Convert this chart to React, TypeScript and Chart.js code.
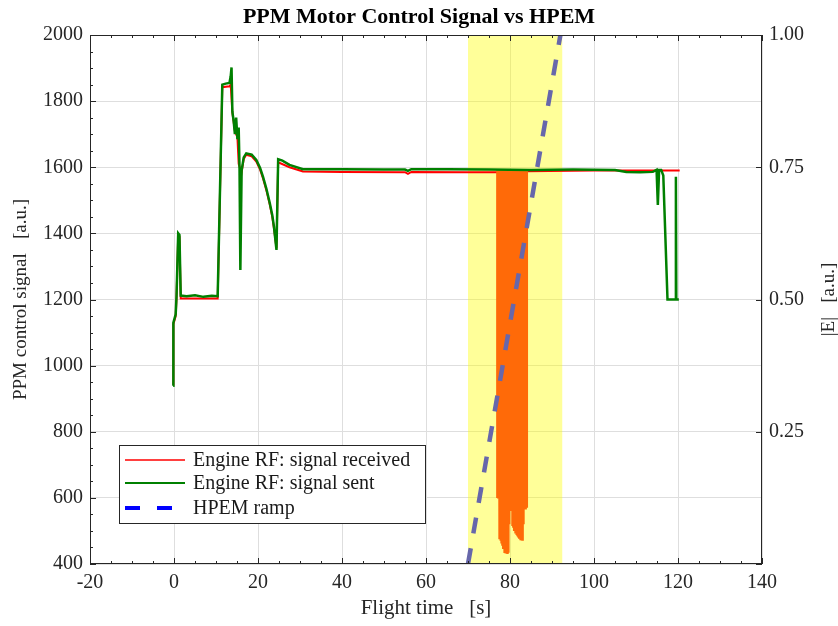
import React, { useEffect, useRef } from 'react';
import { Chart, registerables } from 'chart.js';

Chart.register(...registerables);

// ---------- text ----------
const TITLE = 'PPM Motor Control Signal vs HPEM';
const X_TITLE = 'Flight time   [s]';
const Y_TITLE = 'PPM control signal   [a.u.]';
const Y2_TITLE = '|E|   [a.u.]';
const LEGEND_LABELS = ['Engine RF: signal received', 'Engine RF: signal sent', 'HPEM ramp'];

// ---------- axes ----------
const X_MIN = -20, X_MAX = 140, X_STEP = 20, X_MINOR = 5;
const Y_MIN = 400, Y_MAX = 2000, Y_STEP = 200, Y_MINOR = 50;
const E_MIN = 0, E_MAX = 1, E_STEP = 0.25;

// ---------- data ----------
// Engine RF: signal sent (green)
const SENT_T = [-0.2, -0.15, 0.4, 0.6, 1.0, 1.3, 1.6, 3, 5, 7, 9, 10.4, 11.5, 12.3, 13.2, 13.5, 13.7, 13.9, 14.2, 14.5,
  14.8, 15.1, 15.4, 15.6, 15.8, 16.1, 16.6, 17.2, 18.5, 19.6, 20.5, 21.2, 22.0, 22.8, 23.4, 23.8, 24.4, 24.8, 25.8, 27.5, 30.7, 40, 50,
  55.0, 55.7, 56.5, 65, 75, 85, 95, 105, 107.7, 111, 114, 114.9, 115.2, 115.5, 116.0, 116.5, 117.5, 119.4, 119.5, 119.6, 120.2];
const SENT_V = [939, 1130, 1155, 1210, 1400, 1395, 1212, 1210, 1213, 1208, 1211, 1210, 1850, 1853, 1855, 1875, 1902, 1768, 1740, 1700,
  1750, 1685, 1720, 1600, 1289, 1590, 1630, 1642, 1638, 1622, 1598, 1571, 1535, 1492, 1455, 1420, 1350, 1624, 1620, 1607, 1594, 1594, 1593,
  1593, 1589, 1594, 1594, 1593, 1592, 1593, 1592, 1586, 1585, 1586, 1592, 1486, 1592, 1592, 1575, 1200, 1200, 1571, 1200, 1200];

// Engine RF: signal received (red)
const RECV_T = [-0.2, -0.15, 0.4, 0.6, 1.0, 1.3, 1.6, 5, 10.4, 11.5, 13.2, 13.5, 13.9, 14.5, 15.1, 15.4, 15.7, 16.1, 16.6, 17.2,
  18.5, 19.6, 20.5, 21.2, 22.0, 22.8, 23.4, 23.8, 24.4, 24.8, 27.5, 30.7, 40, 55.0, 55.7, 56.5, 70, 77, 84, 100, 120.4];
const RECV_V = [942, 1125, 1150, 1203, 1395, 1390, 1203, 1203, 1203, 1842, 1845, 1850, 1765, 1710, 1690, 1610, 1598, 1585, 1625, 1638,
  1633, 1617, 1593, 1566, 1530, 1487, 1450, 1415, 1355, 1615, 1600, 1587, 1586, 1585, 1580, 1586, 1585, 1585, 1588, 1590, 1590];

// received signal disturbed during HPEM exposure (orange): each sample spikes down from DIST_TOP to DIST_V
const DIST_T = [77.0, 77.2, 77.4, 77.6, 77.8, 78.0, 78.2, 78.4, 78.6, 78.8, 79.0, 79.2, 79.4, 79.6, 79.8, 80.0, 80.2, 80.4,
  80.6, 80.8, 81.0, 81.2, 81.4, 81.6, 81.8, 82.0, 82.2, 82.4, 82.6, 82.8, 83.0, 83.2, 83.4, 83.6, 83.8, 84.0];
const DIST_V = [600, 598, 602, 475, 470, 462, 455, 445, 440, 433, 432, 436, 430, 434, 520, 560, 612, 600,
  515, 510, 500, 494, 492, 488, 484, 480, 476, 472, 475, 471, 470, 520, 688, 565, 568, 570];
const DIST_TOP = 1587;

// HPEM ramp (right axis)
const HPEM_T = [70, 92];
const HPEM_E = [0, 1];

// HPEM exposure window
const WINDOW_T = [70, 92.5];

// ---------- styles ----------
const FONT = '"Liberation Serif", "Times New Roman", serif';
const AXIS_COLOR = '#262626';
const GRID_COLOR = '#dedede';

const pts = (xs: number[], ys: number[]) => xs.map((x, i) => ({ x, y: ys[i] }));
const spikes = (xs: number[], lows: number[], top: number) =>
  xs.flatMap((x, i) => [{ x, y: top }, { x, y: lows[i] }, { x, y: top }]);

const overlay = {
  id: 'overlay',
  afterDatasetsDraw(chart: any) {
    const { ctx, chartArea: a, scales } = chart;
    const x = scales.x, y = scales.y, y2 = scales.y2;
    ctx.save();
    ctx.strokeStyle = AXIS_COLOR;
    ctx.lineWidth = 1;
    const seg = (x1: number, y1: number, x2: number, y2_: number) => {
      ctx.beginPath(); ctx.moveTo(x1, y1); ctx.lineTo(x2, y2_); ctx.stroke();
    };
    for (let v = X_MIN; v <= X_MAX + 1e-9; v += X_MINOR) {
      const px = Math.round(x.getPixelForValue(v)) + 0.5;
      const len = Math.abs((v - X_MIN) % X_STEP) < 1e-9 ? 6 : 3;
      seg(px, a.bottom, px, a.bottom - len);
      seg(px, a.top, px, a.top + len);
    }
    for (let v = Y_MIN; v <= Y_MAX + 1e-9; v += Y_MINOR) {
      const py = Math.round(y.getPixelForValue(v)) + 0.5;
      const len = Math.abs((v - Y_MIN) % Y_STEP) < 1e-9 ? 6 : 3;
      seg(a.left, py, a.left + len, py);
    }
    for (let v = E_MIN; v <= E_MAX + 1e-9; v += E_STEP) {
      const py = Math.round(y2.getPixelForValue(v)) + 0.5;
      seg(a.right, py, a.right - 6, py);
    }
    ctx.strokeRect(Math.round(a.left) + 0.5, Math.round(a.top) + 0.5, Math.round(a.width) - 1, Math.round(a.height) - 1);

    // legend
    const bx = 119, by = 445, bw = 306, bh = 78;
    ctx.fillStyle = '#ffffff';
    ctx.fillRect(bx, by, bw, bh);
    ctx.strokeStyle = AXIS_COLOR;
    ctx.strokeRect(bx + 0.5, by + 0.5, bw, bh);
    const rows = [460, 483, 508];
    const styles = [
      { color: '#ff0000', width: 1.5, dash: [] as number[] },
      { color: '#008000', width: 2, dash: [] as number[] },
      { color: '#0000ff', width: 4, dash: [15, 17] },
    ];
    rows.forEach((ry, i) => {
      const s = styles[i];
      ctx.strokeStyle = s.color;
      ctx.lineWidth = s.width;
      ctx.setLineDash(s.dash);
      seg(125, ry, 185, ry);
      ctx.setLineDash([]);
      ctx.fillStyle = '#1a1a1a';
      ctx.font = `20px ${FONT}`;
      ctx.textAlign = 'left';
      ctx.textBaseline = 'middle';
      ctx.fillText(LEGEND_LABELS[i], 193, ry + 1);
    });
    ctx.restore();
  },
  afterDraw(chart: any) {
    const { ctx, chartArea: a } = chart;
    ctx.save();
    ctx.translate(829, (a.top + a.bottom) / 2);
    ctx.rotate(-Math.PI / 2);
    ctx.font = `19px ${FONT}`;
    ctx.fillStyle = AXIS_COLOR;
    ctx.textAlign = 'center';
    ctx.textBaseline = 'middle';
    ctx.fillText(Y2_TITLE, 0, 0);
    ctx.restore();
  },
};

export default function App() {
  const ref = useRef<HTMLCanvasElement | null>(null);
  useEffect(() => {
    if (!ref.current) return;
    Chart.defaults.font.family = FONT;
    const chart = new Chart(ref.current, {
      type: 'line',
      data: {
        datasets: [
          {
            label: 'HPEM window',
            data: pts(WINDOW_T, [Y_MAX, Y_MAX]),
            yAxisID: 'y',
            borderWidth: 0,
            pointRadius: 0,
            backgroundColor: 'rgba(255,255,0,0.4)',
            fill: 'start',
            order: 10,
          },
          {
            label: LEGEND_LABELS[0],
            data: pts(RECV_T, RECV_V),
            yAxisID: 'y',
            borderColor: '#ff0000',
            borderWidth: 2,
            pointRadius: 0,
            fill: false,
            order: 5,
          },
          {
            label: 'received (disturbed)',
            data: spikes(DIST_T, DIST_V, DIST_TOP),
            yAxisID: 'y',
            borderColor: '#ff6a08',
            borderWidth: 2.5,
            borderJoinStyle: 'miter',
            pointRadius: 0,
            fill: false,
            order: 4,
          },
          {
            label: LEGEND_LABELS[1],
            data: pts(SENT_T, SENT_V),
            yAxisID: 'y',
            borderColor: '#008000',
            borderWidth: 2.5,
            pointRadius: 0,
            fill: false,
            order: 3,
          },
          {
            label: LEGEND_LABELS[2],
            data: pts(HPEM_T, HPEM_E),
            yAxisID: 'y2',
            borderColor: '#6767ab',
            borderWidth: 4.5,
            borderDash: [16, 15],
            borderCapStyle: 'butt',
            pointRadius: 0,
            fill: false,
            order: 1,
          },
        ],
      },
      options: {
        responsive: false,
        animation: false,
        devicePixelRatio: 1,
        layout: { padding: 0 },
        plugins: {
          legend: { display: false },
          tooltip: { enabled: false },
          title: {
            display: true,
            text: TITLE,
            color: '#000',
            font: { family: FONT, size: 22, weight: 'bold' },
            padding: { top: 4, bottom: 4.6 },
          },
        },
        scales: {
          x: {
            type: 'linear',
            min: X_MIN,
            max: X_MAX,
            border: { display: false },
            grid: { color: GRID_COLOR, drawTicks: false },
            ticks: { stepSize: X_STEP, color: AXIS_COLOR, font: { family: FONT, size: 20 }, padding: 7, maxRotation: 0 },
            title: { display: true, text: X_TITLE, color: AXIS_COLOR, font: { family: FONT, size: 21 }, padding: { top: 0, bottom: 5 } },
            afterFit: (s: any) => { s.height = 62; },
          },
          y: {
            type: 'linear',
            position: 'left',
            min: Y_MIN,
            max: Y_MAX,
            border: { display: false },
            grid: { color: GRID_COLOR, drawTicks: false },
            ticks: { stepSize: Y_STEP, color: AXIS_COLOR, font: { family: FONT, size: 20 }, padding: 7, callback: (v: any) => String(v) },
            title: { display: true, text: Y_TITLE, color: AXIS_COLOR, font: { family: FONT, size: 19 }, padding: { top: 10, bottom: 0 } },
            afterFit: (s: any) => { s.width = 90; },
          },
          y2: {
            type: 'linear',
            position: 'right',
            min: E_MIN,
            max: E_MAX,
            border: { display: false },
            grid: { drawOnChartArea: false, drawTicks: false },
            ticks: {
              stepSize: E_STEP,
              color: AXIS_COLOR,
              font: { family: FONT, size: 20 },
              padding: 7,
              callback: (v: any) => (v === 0 ? '' : Number(v).toFixed(2)),
            },
            afterFit: (s: any) => { s.width = 76; },
          },
        },
      },
      plugins: [overlay],
    } as any);
    return () => chart.destroy();
  }, []);
  return (
    <div style={{ position: 'fixed', left: 0, top: 0, width: 838, height: 626, background: '#fff' }}>
      <canvas ref={ref} width={838} height={626} style={{ display: 'block' }} />
    </div>
  );
}
